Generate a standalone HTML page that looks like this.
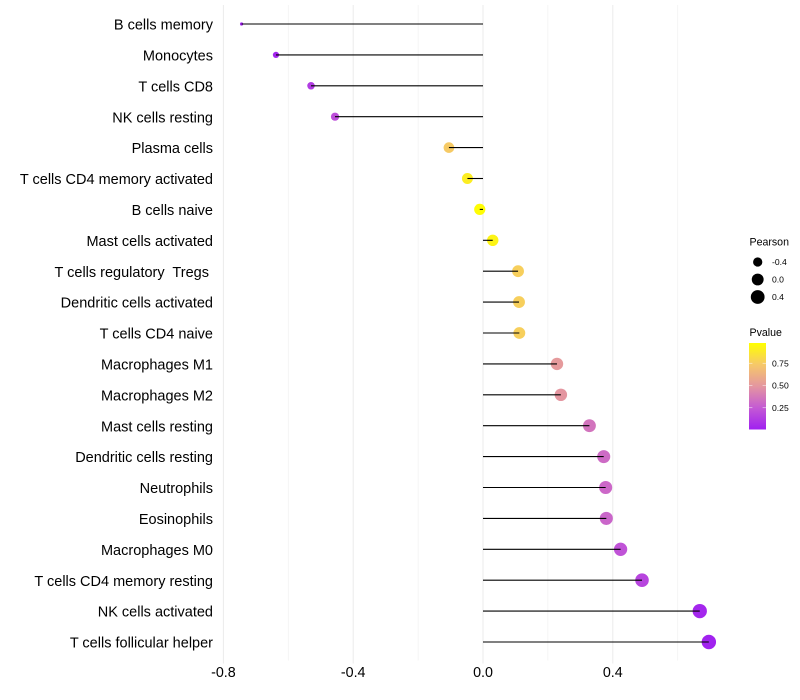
<!DOCTYPE html>
<html lang="en">
<head>
<meta charset="utf-8">
<title>Immune cell correlation lollipop chart</title>
<style>
html,body{margin:0;padding:0;background:#fff;}
svg{display:block;font-family:"Liberation Sans",Arial,sans-serif;}
text{white-space:pre;}
</style>
</head>
<body>
<svg id="chart" width="800" height="700" viewBox="0 0 800 700" xmlns="http://www.w3.org/2000/svg">
  <defs>
    <linearGradient id="pvalue-gradient" x1="0" y1="1" x2="0" y2="0">
      <stop offset="0" stop-color="#a020f0"/>
      <stop offset="0.25" stop-color="#c45ad4"/>
      <stop offset="0.5" stop-color="#e496a0"/>
      <stop offset="0.75" stop-color="#f6c869"/>
      <stop offset="1" stop-color="#ffff00"/>
    </linearGradient>
  </defs>
  <g id="grid"></g>
  <g id="points"></g>
  <g id="stems"></g>
  <g id="y-labels"></g>
  <g id="x-labels"></g>
  <g id="size-legend">
    <text x="749.5" y="245.5" font-size="10.6" fill="#000">Pearson</text>
  </g>
  <g id="color-legend">
    <text x="749.5" y="336" font-size="10.6" fill="#000">Pvalue</text>
    <rect x="749" y="343" width="17" height="86.5" fill="url(#pvalue-gradient)"/>
  </g>
</svg>
<script>
const categories = ["B cells memory","Monocytes","T cells CD8","NK cells resting","Plasma cells","T cells CD4 memory activated","B cells naive","Mast cells activated","T cells regulatory  Tregs ","Dendritic cells activated","T cells CD4 naive","Macrophages M1","Macrophages M2","Mast cells resting","Dendritic cells resting","Neutrophils","Eosinophils","Macrophages M0","T cells CD4 memory resting","NK cells activated","T cells follicular helper"];
const pearson = [-0.744,-0.638,-0.53,-0.456,-0.105,-0.048,-0.01,0.03,0.108,0.111,0.112,0.228,0.24,0.328,0.372,0.378,0.38,0.424,0.49,0.668,0.696];
const pvalues = [0.01,0.02,0.12,0.2,0.76,0.92,0.99,0.95,0.78,0.78,0.78,0.52,0.5,0.36,0.32,0.31,0.3,0.22,0.16,0.03,0.01];
const xTicks = [-0.8,-0.4,0,0.4];
const xTickLabels = ["-0.8","-0.4","0.0","0.4"];
const xMinorTicks = [-0.6,-0.2,0.2,0.6];
const sizeBreaks = [-0.4,0,0.4];
const sizeBreakLabels = ["-0.4","0.0","0.4"];
const colorBreaks = [0.25,0.5,0.75];
const colorBreakLabels = ["0.25","0.50","0.75"];

const NS = "http://www.w3.org/2000/svg";
function make(parentId, tag, attrs, text) {
  const el = document.createElementNS(NS, tag);
  for (const k in attrs) el.setAttribute(k, attrs[k]);
  if (text !== undefined) el.textContent = text;
  document.getElementById(parentId).appendChild(el);
  return el;
}
function xScale(v) { return 483 + v * 324.5; }
function yScale(i) { return 24 + i * 30.9; }
const pearsonMin = Math.min(...pearson);
const pearsonMax = Math.max(...pearson);
function rScale(v) {
  const t = Math.max(0, (v - pearsonMin) / (pearsonMax - pearsonMin));
  return 1.6 + 5.6 * Math.sqrt(t);
}
function pY(p) { return 430 - p * 89; }
const colorStops = [[160,32,240],[196,90,212],[228,150,160],[246,200,105],[255,255,0]];
function colorScale(p) {
  const f = Math.min(0.9999, Math.max(0, p)) * (colorStops.length - 1);
  const i = Math.floor(f);
  const a = colorStops[i];
  const b = colorStops[i + 1];
  const u = f - i;
  return "rgb(" + a.map((c, j) => Math.round(c + (b[j] - c) * u)).join(",") + ")";
}

xMinorTicks.forEach(v => {
  const el = make("grid", "line", {x1: xScale(v), x2: xScale(v), y1: 5, y2: 660.5, stroke: "#f1f1f1", "stroke-width": 0.7});
  
  
});
xTicks.forEach((v, i) => {
  const el = make("grid", "line", {x1: xScale(v), x2: xScale(v), y1: 5, y2: 663.5, stroke: "#ebebeb", "stroke-width": 1});
  
  
  const label = make("x-labels", "text", {x: xScale(v), y: 677, "text-anchor": "middle", "font-size": 14.3, fill: "#000"}, xTickLabels[i]);
  
  
});
categories.forEach((name, i) => {
  const y = yScale(i);
  const label = make("y-labels", "text", {x: 213, y: y + 5.6, "text-anchor": "end", "font-size": 14.5, fill: "#000"}, name);
  
  
  const dot = make("points", "circle", {cx: xScale(pearson[i]), cy: y, r: rScale(pearson[i]), fill: colorScale(pvalues[i])});
  
  
  const stem = make("stems", "line", {x1: xScale(0), x2: xScale(pearson[i]), y1: y, y2: y, stroke: "#000", "stroke-width": 1.1});
  
  
});
sizeBreaks.forEach((v, i) => {
  const y = 262 + i * 17.5;
  const dot = make("size-legend", "circle", {cx: 757.7, cy: y, r: rScale(v) + 0.3, fill: "#000"});
  
  
  const label = make("size-legend", "text", {x: 772, y: y + 3, "font-size": 8.6, fill: "#000"}, sizeBreakLabels[i]);
  
  
});
colorBreaks.forEach((p, i) => {
  const y = pY(p);
  const left = make("color-legend", "line", {x1: 749, x2: 752.4, y1: y, y2: y, stroke: "#fff", "stroke-width": 0.6, opacity: 0.8});
  
  
  const right = make("color-legend", "line", {x1: 762.6, x2: 766, y1: y, y2: y, stroke: "#fff", "stroke-width": 0.6, opacity: 0.8});
  
  
  const label = make("color-legend", "text", {x: 772, y: y + 3, "font-size": 8.6, fill: "#000"}, colorBreakLabels[i]);
  
  
});
</script>
</body>
</html>
